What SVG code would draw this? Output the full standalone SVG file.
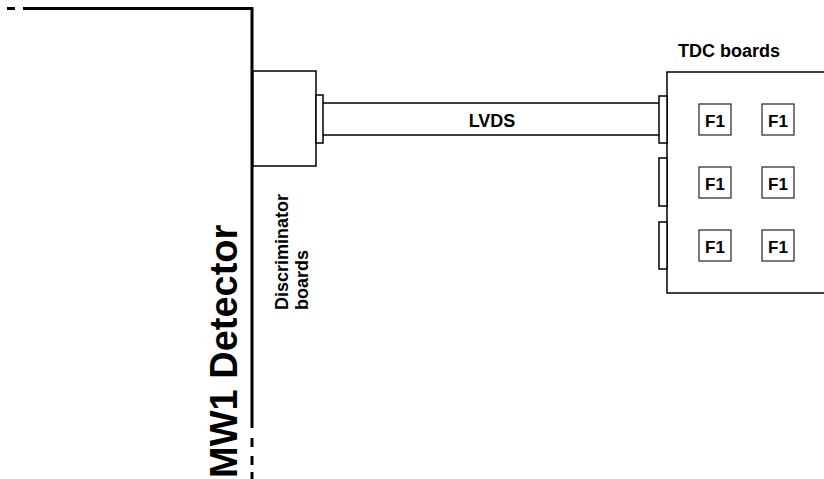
<svg xmlns="http://www.w3.org/2000/svg" width="824" height="479" viewBox="0 0 824 479">
<style>
  .t { font-family: "Liberation Sans", Arial, sans-serif; font-weight: bold; fill: #000; }
  .box { fill: #fff; stroke: #000; stroke-width: 1.5; }
  .f1 { fill: #fff; stroke: #222; stroke-width: 1.2; }
  .det { fill: none; stroke: #000; stroke-width: 3; }
  .wire { fill: none; stroke: #000; stroke-width: 1.5; }
</style>
<rect width="824" height="479" fill="#fff"/>
<g id="detector">
  <line class="det" x1="7" y1="8.5" x2="15" y2="8.5"/>
  <polyline class="det" points="23,8.5 252,8.5 252,428"/>
  <line class="det" x1="252" y1="438" x2="252" y2="447"/>
  <line class="det" x1="252" y1="456" x2="252" y2="465"/>
  <line class="det" x1="252" y1="472" x2="252" y2="479"/>
  <text class="t" x="237" y="478" font-size="38" transform="rotate(-90 237 478)">MW1 Detector</text>
</g>
<g id="discriminator">
  <rect class="box" x="253" y="71" width="63" height="95"/>
  <rect class="box" x="316" y="95" width="7" height="48"/>
  <text class="t" x="288" y="310" font-size="18" transform="rotate(-90 288 310)">Discriminator</text>
  <text class="t" x="308" y="310" font-size="18" transform="rotate(-90 308 310)">boards</text>
</g>
<g id="connectors">
  <line class="wire" x1="323" y1="103" x2="659" y2="103"/>
  <line class="wire" x1="323" y1="135" x2="659" y2="135"/>
  <text class="t" x="492" y="127" font-size="18" text-anchor="middle">LVDS</text>
</g>
<g id="tdc">
  <rect class="box" x="667" y="72" width="170" height="221"/>
  <rect class="box" x="659" y="96" width="8" height="47"/>
  <rect class="box" x="659" y="158" width="8" height="48"/>
  <rect class="box" x="659" y="222" width="8" height="47"/>
  <text class="t" x="729" y="57" font-size="18" text-anchor="middle">TDC boards</text>
</g>
<g id="f1-1"><rect class="f1" x="699" y="104" width="32" height="31"/><text class="t" x="715" y="127" font-size="17" text-anchor="middle">F1</text></g>
<g id="f1-2"><rect class="f1" x="762" y="104" width="32" height="31"/><text class="t" x="778" y="127" font-size="17" text-anchor="middle">F1</text></g>
<g id="f1-3"><rect class="f1" x="699" y="167" width="32" height="31"/><text class="t" x="715" y="190" font-size="17" text-anchor="middle">F1</text></g>
<g id="f1-4"><rect class="f1" x="762" y="167" width="32" height="31"/><text class="t" x="778" y="190" font-size="17" text-anchor="middle">F1</text></g>
<g id="f1-5"><rect class="f1" x="699" y="230" width="32" height="31"/><text class="t" x="715" y="253" font-size="17" text-anchor="middle">F1</text></g>
<g id="f1-6"><rect class="f1" x="762" y="230" width="32" height="31"/><text class="t" x="778" y="253" font-size="17" text-anchor="middle">F1</text></g>
</svg>
